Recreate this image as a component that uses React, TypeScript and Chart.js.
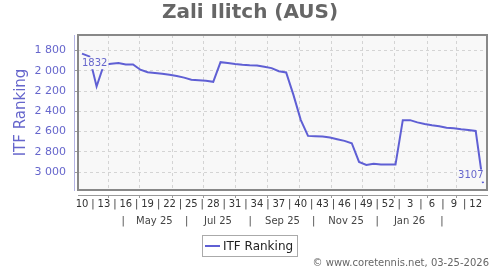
import React, { useEffect, useRef } from 'react';
import { Chart, registerables } from 'chart.js';

Chart.register(...registerables);

// ISO week numbers of the weekly ranking points (Mar 2025 -> Mar 2026)
const weeks = [
  10, 11, 12, 13, 14, 15, 16, 17, 18, 19, 20, 21, 22, 23, 24, 25, 26, 27, 28, 29,
  30, 31, 32, 33, 34, 35, 36, 37, 38, 39, 40, 41, 42, 43, 44, 45, 46, 47, 48, 49,
  50, 51, 52, 1, 2, 3, 4, 5, 6, 7, 8, 9, 10, 11, 12, 13,
];

// ITF ranking per week
const ranks = [
  1832, 1859, 2155, 1940, 1931, 1924, 1938, 1938, 1990, 2015,
  2022, 2029, 2040, 2052, 2068, 2089, 2094, 2099, 2109, 1916,
  1924, 1934, 1941, 1946, 1948, 1961, 1974, 2005, 2017, 2238,
  2484, 2642, 2645, 2649, 2658, 2675, 2691, 2714, 2899, 2928,
  2916, 2923, 2925, 2925, 2487, 2487, 2509, 2524, 2536, 2546,
  2561, 2566, 2576, 2583, 2593, 3107,
];

const firstWeekDate = '2025-03-06T12:00:00Z';
const monthGridDates = [
  '2025-04-01', '2025-05-01', '2025-06-01', '2025-07-01', '2025-08-01', '2025-09-01',
  '2025-10-01', '2025-11-01', '2025-12-01', '2026-01-01', '2026-02-01', '2026-03-01',
];
const monthLabels = ['May 25', 'Jul 25', 'Sep 25', 'Nov 25', 'Jan 26'];
const monthLabelDates = ['2025-05-15', '2025-07-15', '2025-09-15', '2025-11-15', '2026-01-15'];
const monthSepDates = ['2025-04-15', '2025-06-15', '2025-08-15', '2025-10-15', '2025-12-15', '2026-02-15'];
const yTicks = [1800, 2000, 2200, 2400, 2600, 2800, 3000];
const weekLabelStep = 3;

const titleText = 'Zali Ilitch (AUS)';
const seriesName = 'ITF Ranking';
const footerText = '\u00a9 www.coretennis.net, 03-25-2026';

const FONT = '"DejaVu Sans"';
const PURPLE = '#6666cc';
const LINE = '#5f5fd4';
const GRID = '#d4d4d4';
const PLOT_BG = '#f8f8f8';

const dayMs = 86400000;
const dateToIdx = (d: string) =>
  (Date.parse(d + 'T00:00:00Z') - Date.parse(firstWeekDate)) / (7 * dayMs);

const X_MIN = -0.55;
const X_MAX = weeks.length - 1 + 0.55;

type TickItem = { value: number; text: string; kind: string };

function buildWeekTicks(): TickItem[] {
  const t: TickItem[] = [];
  for (let i = 0; i < weeks.length; i += weekLabelStep) {
    if (i > weeks.length - 2) break;
    t.push({ value: i, text: String(weeks[i]), kind: 'w' });
    if (i + weekLabelStep <= weeks.length - 2) {
      t.push({ value: i + weekLabelStep / 2, text: '|', kind: 's' });
    }
  }
  monthGridDates.forEach((d) => t.push({ value: dateToIdx(d), text: '', kind: 'm' }));
  return t.sort((a, b) => a.value - b.value);
}

function buildMonthTicks(): TickItem[] {
  const t: TickItem[] = [];
  monthLabels.forEach((l, i) => t.push({ value: dateToIdx(monthLabelDates[i]), text: l, kind: 'l' }));
  monthSepDates.forEach((d) => t.push({ value: dateToIdx(d), text: '|', kind: 's' }));
  return t.sort((a, b) => a.value - b.value);
}

const fmtRank = (v: number) => {
  const s = String(v);
  return s.length > 3 ? s.slice(0, s.length - 3) + ' ' + s.slice(-3) : s;
};

const bgPlugin = {
  id: 'bgPlugin',
  beforeDraw(chart: any) {
    const { ctx, chartArea: a } = chart;
    ctx.save();
    ctx.fillStyle = '#ffffff';
    ctx.fillRect(0, 0, chart.width, chart.height);
    ctx.fillStyle = PLOT_BG;
    ctx.fillRect(a.left, a.top, a.right - a.left, a.bottom - a.top);
    ctx.restore();
  },
};

const pointLabelPlugin = {
  id: 'pointLabels',
  afterDatasetsDraw(chart: any) {
    const meta = chart.getDatasetMeta(0);
    const ctx = chart.ctx;
    const pts = meta.data;
    const draw = (text: string, x: number, y: number, align: 'left' | 'right') => {
      ctx.font = '10px ' + FONT;
      const w = ctx.measureText(text).width;
      const left = align === 'left' ? x - 1 : x - w - 1;
      ctx.fillStyle = PLOT_BG;
      ctx.fillRect(left, y - 6, w + 2, 12);
      ctx.fillStyle = PURPLE;
      ctx.textAlign = align;
      ctx.textBaseline = 'middle';
      ctx.fillText(text, x, y);
    };
    ctx.save();
    const first = pts[0];
    const last = pts[pts.length - 1];
    draw(String(ranks[0]), first.x, first.y + 9.5, 'left');
    draw(String(ranks[ranks.length - 1]), last.x + 0.5, last.y - 7.5, 'right');
    ctx.restore();
  },
};

const framePlugin = {
  id: 'framePlugin',
  afterDraw(chart: any) {
    const { ctx, chartArea: a } = chart;
    ctx.save();
    ctx.strokeStyle = '#888888';
    ctx.lineWidth = 2;
    ctx.strokeRect(a.left, a.top, a.right - a.left, a.bottom - a.top);

    // legend box
    const lx = 202.5, ly = 235.5, lw = 95, lh = 21;
    ctx.fillStyle = '#ffffff';
    ctx.fillRect(lx, ly, lw, lh);
    ctx.strokeStyle = '#aaaaaa';
    ctx.lineWidth = 1;
    ctx.strokeRect(lx, ly, lw, lh);
    ctx.strokeStyle = LINE;
    ctx.lineWidth = 2;
    ctx.beginPath();
    ctx.moveTo(205, 246);
    ctx.lineTo(220, 246);
    ctx.stroke();
    ctx.fillStyle = '#222222';
    ctx.font = '12px ' + FONT;
    ctx.textAlign = 'left';
    ctx.textBaseline = 'middle';
    ctx.fillText(seriesName, 223, 246.5);

    // footer
    ctx.fillStyle = '#666666';
    ctx.font = '10px ' + FONT;
    ctx.textAlign = 'right';
    ctx.fillText(footerText, 489, 263);
    ctx.restore();
  },
};

export default function App() {
  const ref = useRef<HTMLCanvasElement | null>(null);

  useEffect(() => {
    document.body.style.margin = '0';
    const canvas = ref.current;
    if (!canvas) return;
    const weekTicks = buildWeekTicks();
    const monthTicks = buildMonthTicks();
    const gridIdx = monthGridDates.map(dateToIdx);

    const chart = new Chart(canvas, {
      type: 'line',
      data: {
        datasets: [
          {
            label: seriesName,
            data: ranks.map((v, i) => ({ x: i, y: v })),
            borderColor: LINE,
            backgroundColor: LINE,
            borderWidth: 2,
            pointRadius: 0,
            tension: 0,
            fill: false,
            xAxisID: 'x',
            yAxisID: 'y',
          },
        ],
      },
      options: {
        animation: false,
        responsive: false,
        devicePixelRatio: 1,
        layout: { padding: { left: 0, right: 0, top: 0, bottom: 40 } },
        plugins: {
          legend: { display: false },
          tooltip: { enabled: false },
          title: {
            display: true,
            text: titleText,
            color: '#666666',
            font: { family: FONT, size: 20, weight: 'bold' },
            padding: { top: 1, bottom: 10 },
          },
        },
        scales: {
          x: {
            type: 'linear',
            position: 'bottom',
            min: X_MIN,
            max: X_MAX,
            weight: 0,
            afterBuildTicks: (s: any) => {
              s.ticks = gridIdx.map((v) => ({ value: v }));
            },
            afterFit: (s: any) => {
              s.height = 5;
            },
            ticks: { display: false },
            grid: { color: GRID, lineWidth: 1, drawTicks: false },
            border: { display: false, dash: [3, 3] },
          },
          xW: {
            type: 'linear',
            position: 'bottom',
            min: X_MIN,
            max: X_MAX,
            weight: 1,
            afterBuildTicks: (s: any) => {
              s.ticks = weekTicks.map((t) => ({ ...t }));
            },
            afterFit: (s: any) => {
              s.height = 17;
            },
            ticks: {
              autoSkip: false,
              maxRotation: 0,
              minRotation: 0,
              padding: 0,
              color: '#333333',
              font: { family: FONT, size: 10 },
              callback: (_v: any, i: number, t: any[]) => t[i].text,
            },
            grid: {
              drawOnChartArea: false,
              drawTicks: true,
              tickLength: 3,
              tickWidth: 1,
              tickColor: (c: any) => (c.tick && c.tick.kind === 'm' ? '#999999' : 'rgba(0,0,0,0)'),
            },
            border: { display: true, color: '#999999', width: 1 },
          },
          xM: {
            type: 'linear',
            position: 'bottom',
            min: X_MIN,
            max: X_MAX,
            weight: 2,
            afterBuildTicks: (s: any) => {
              s.ticks = monthTicks.map((t) => ({ ...t }));
            },
            afterFit: (s: any) => {
              s.height = 18;
            },
            ticks: {
              autoSkip: false,
              maxRotation: 0,
              minRotation: 0,
              padding: 3,
              color: '#444444',
              font: { family: FONT, size: 10 },
              callback: (_v: any, i: number, t: any[]) => t[i].text,
            },
            grid: { display: false, drawTicks: false },
            border: { display: false },
          },
          y: {
            type: 'linear',
            position: 'left',
            min: 1648,
            max: 3175,
            reverse: true,
            bounds: 'data',
            weight: 0,
            afterBuildTicks: (s: any) => {
              s.ticks = yTicks.map((v) => ({ value: v }));
            },
            afterFit: (s: any) => {
              s.width = 4;
            },
            ticks: { display: false },
            grid: { color: GRID, lineWidth: 1, drawTicks: true, tickLength: 3, tickColor: '#999999' },
            border: { display: false, dash: [3, 3] },
          },
          yL: {
            type: 'linear',
            position: 'left',
            min: 1648,
            max: 3175,
            reverse: true,
            bounds: 'data',
            weight: 1,
            afterBuildTicks: (s: any) => {
              s.ticks = yTicks.map((v) => ({ value: v }));
            },
            afterFit: (s: any) => {
              s.width = 74;
            },
            ticks: {
              padding: 8,
              color: PURPLE,
              font: { family: FONT, size: 11 },
              callback: (v: any) => fmtRank(Number(v)),
            },
            grid: { display: false, drawTicks: false },
            border: { display: true, color: '#b4b4e4', width: 1 },
            title: {
              display: true,
              text: seriesName,
              color: PURPLE,
              font: { family: FONT, size: 15 },
              padding: { top: 12, bottom: 0 },
            },
          },
          yR: {
            type: 'linear',
            position: 'right',
            afterFit: (s: any) => {
              s.width = 13;
            },
            ticks: { display: false },
            grid: { display: false, drawTicks: false },
            border: { display: false },
          },
        },
      } as any,
      plugins: [bgPlugin, pointLabelPlugin, framePlugin],
    });
    return () => chart.destroy();
  }, []);

  return (
    <div style={{ width: 500, height: 270 }}>
      <canvas ref={ref} width={500} height={270} style={{ display: 'block' }} />
    </div>
  );
}
